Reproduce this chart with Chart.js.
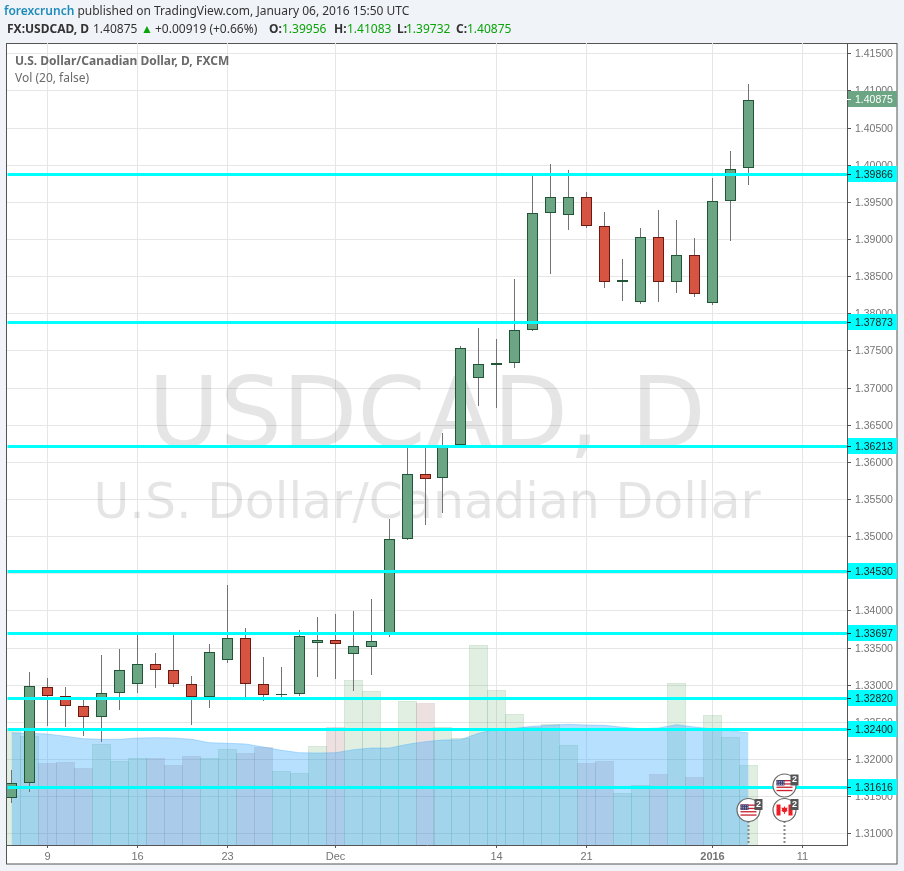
<!DOCTYPE html>
<html>
<head>
<meta charset="utf-8">
<script src="https://cdn.jsdelivr.net/npm/chart.js@4"></script>
<style>
html,body{margin:0;padding:0;width:904px;height:871px;overflow:hidden;background:#f0f3f7;}
#wrap{position:relative;width:904px;height:871px;}
canvas{position:absolute;left:0;top:0;}
.t{position:absolute;white-space:nowrap;font-family:"Noto Sans",sans-serif;font-size:12px;line-height:18px;color:#333;}
.b{font-weight:700;}
.g{color:#0aa30a;}
</style>
</head>
<body>
<div id="wrap">
<canvas id="c" width="904" height="871"></canvas>
<div class="t" style="left:4px;top:2px;"><span style="color:#1e8cba;font-weight:600">forexcrunch</span> published on TradingView.com, January 06, 2016 15:50 UTC</div>
<div class="t b" style="left:7px;top:20px;">FX:USDCAD, D</div>
<div class="t" style="left:93px;top:20px;">1.40875</div>
<div class="t g" style="left:141px;top:20px;">▲</div>
<div class="t" style="left:155px;top:20px;">+0.00919 (+0.66%)</div>
<div class="t b" style="left:269px;top:20px;">O:</div><div class="t g" style="left:282px;top:20px;">1.39956</div>
<div class="t b" style="left:334px;top:20px;">H:</div><div class="t g" style="left:347px;top:20px;">1.41083</div>
<div class="t b" style="left:397px;top:20px;">L:</div><div class="t g" style="left:406px;top:20px;">1.39732</div>
<div class="t b" style="left:456px;top:20px;">C:</div><div class="t g" style="left:467px;top:20px;">1.40875</div>
<div class="t b" style="left:15px;top:52px;font-size:12px;color:#6a6a6a;">U.S. Dollar/Canadian Dollar, D, FXCM</div>
<div class="t" style="left:15px;top:69px;font-size:12px;color:#6a6a6a;">Vol (20, false)</div>
</div>
<script>
const opens  = [1.31471,1.31673,1.32965,1.32844,1.32710,1.32561,1.32885,1.33006,1.33275,1.33194,1.33006,1.32835,1.33329,1.33625,1.33006,1.32855,1.32871,1.33555,1.33598,1.33410,1.33512,1.33696,1.34958,1.35833,1.35779,1.36220,1.37133,1.37308,1.37327,1.37771,1.39346,1.39319,1.39561,1.39171,1.38417,1.38148,1.39023,1.38417,1.38780,1.38134,1.39507,1.39956];
const highs  = [1.31852,1.33171,1.33091,1.32969,1.32794,1.33400,1.33481,1.33710,1.33427,1.33683,1.33117,1.33548,1.34342,1.33764,1.33373,1.33239,1.33737,1.33912,1.33952,1.33992,1.34154,1.35231,1.36200,1.36200,1.36388,1.37560,1.37802,1.37654,1.38462,1.39848,1.40009,1.39929,1.39633,1.39363,1.38731,1.39148,1.39390,1.39256,1.39013,1.39821,1.40185,1.41083];
const lows   = [1.31404,1.31560,1.32444,1.32431,1.32310,1.32233,1.32664,1.32893,1.32960,1.32973,1.32462,1.32691,1.33296,1.32830,1.32785,1.32835,1.32848,1.33108,1.33077,1.32920,1.33131,1.33646,1.34950,1.35154,1.35316,1.36210,1.36752,1.36725,1.37267,1.37760,1.38533,1.39125,1.39152,1.38344,1.38169,1.38129,1.38156,1.38277,1.38223,1.38116,1.38977,1.39732];
const closes = [1.31673,1.32979,1.32844,1.32710,1.32561,1.32885,1.33194,1.33275,1.33194,1.33006,1.32835,1.33436,1.33625,1.33006,1.32858,1.32871,1.33652,1.33598,1.33548,1.33517,1.33585,1.34958,1.35833,1.35773,1.36207,1.37529,1.37313,1.37327,1.37771,1.39346,1.39561,1.39561,1.39171,1.38417,1.38444,1.39023,1.38417,1.38780,1.38256,1.39507,1.39938,1.40875];
const volumes = [115,109,82,83,77,101,84,87,87,80,89,87,96,92,98,74,72,99,118,165,154,115,144,142,118,107,200,155,131,118,121,100,82,84,52,60,71,162,68,130,108,80];
const volumeMA = [112.3,111.7,111,108.7,106.3,105.7,105.7,107,107.3,107,105.7,102.3,101.7,101,98,94.7,92.3,92,92.3,95.3,97,97,100.7,103.3,105,105.3,111.7,115.7,116.7,118.7,119.7,120.7,120,119.7,117.7,116.3,117,120.3,118,116,114.3,112];
const levels = [1.39866,1.37873,1.36213,1.34530,1.33697,1.32820,1.32400,1.31616];
const lastPrice = 1.40875;
const yTickValues = [1.31,1.315,1.32,1.325,1.33,1.335,1.34,1.345,1.35,1.355,1.36,1.365,1.37,1.375,1.38,1.385,1.39,1.395,1.40,1.405,1.41,1.415];
const xTickIndex = [2,7,12,18,27,32,39,44];
const xTickLabels = ['9','16','23','Dec','14','21','2016','11'];
const eventIndex = [41,43,43];
const eventFlag = ['US','CA','US'];

const X_MIN=-0.242, X_MAX=46.487, Y_MIN=1.30842, Y_MAX=1.41638, VOL_MAX=802;
const TICK_FONT='"Liberation Sans",Arial,sans-serif';
const GREEN='#6ba583', GREEN_B='#225437', RED='#d75442', RED_B='#6b1a12';
const idx = opens.map((_,i)=>i);
const up = i => closes[i]>=opens[i];

function snap(scale,fn){
  if(scale.__snap) return;
  scale.__snap=true;
  const g=scale.getPixelForValue;
  scale.getPixelForValue=function(v,i){return fn(g.call(scale,v,i));};
}
const half=v=>Math.floor(v+0.22)+0.5;

function drawFlag(ctx,kind,cx,cy){
  ctx.save();
  ctx.beginPath();ctx.arc(cx,cy,11.5,0,Math.PI*2);
  ctx.fillStyle='#fff';ctx.fill();
  ctx.lineWidth=1.2;ctx.strokeStyle='#666';ctx.stroke();
  const w=16,h=11,l=cx-8,t=cy-5.5;
  if(kind==='US'){
    ctx.fillStyle='#fff';ctx.fillRect(l,t,w,h);
    ctx.fillStyle='#c8202f';
    for(let i=0;i<4;i++)ctx.fillRect(l,t+i*3.3,w,1.3);
    ctx.fillStyle='#3c3b6e';ctx.fillRect(l,t,8,5.5);
    ctx.fillStyle='#cfd2e6';
    for(let r=0;r<3;r++)for(let q=0;q<4;q++)ctx.fillRect(l+1+q*1.8,t+0.9+r*1.6,0.8,0.8);
  }else{
    ctx.fillStyle='#fff';ctx.fillRect(l,t,w,h);
    ctx.fillStyle='#ee1c25';
    ctx.fillRect(l,t,4,h);ctx.fillRect(l+12,t,4,h);
    ctx.beginPath();
    ctx.moveTo(cx,cy-4);ctx.lineTo(cx+1,cy-2);ctx.lineTo(cx+3,cy-2.4);ctx.lineTo(cx+2.4,cy);
    ctx.lineTo(cx+3.2,cy+0.8);ctx.lineTo(cx+0.4,cy+2.4);ctx.lineTo(cx+0.4,cy+4);ctx.lineTo(cx-0.4,cy+4);
    ctx.lineTo(cx-0.4,cy+2.4);ctx.lineTo(cx-3.2,cy+0.8);ctx.lineTo(cx-2.4,cy);ctx.lineTo(cx-3,cy-2.4);ctx.lineTo(cx-1,cy-2);
    ctx.closePath();ctx.fill();
  }
  ctx.fillStyle='#555';ctx.fillRect(cx+6,cy-11,8,11);
  ctx.fillStyle='#fff';ctx.font='bold 9px "Liberation Sans",sans-serif';
  ctx.textAlign='center';ctx.textBaseline='middle';
  ctx.fillText('2',cx+10,cy-5.5);
  ctx.restore();
}

const frame={
  id:'frame',
  beforeDraw(ch){
    const c=ch.ctx;
    c.save();
    c.fillStyle='#fff';c.fillRect(6,43,891,821);
    c.strokeStyle='#555';c.lineWidth=1;c.strokeRect(6.5,43.5,890.5,820.5);
    c.restore();
  },
  beforeDatasetsDraw(ch){
    const c=ch.ctx,a=ch.chartArea,mid=(a.left+a.right)/2;
    c.save();
    c.beginPath();c.rect(a.left,a.top,a.right-a.left,a.bottom-a.top);c.clip();
    c.fillStyle='rgba(0,0,0,0.1)';c.textAlign='center';c.textBaseline='alphabetic';
    c.font='98px "DejaVu Sans"';
    c.fillText('USDCAD, D',mid,447);
    c.font='49px "DejaVu Sans"';
    c.fillText('U.S. Dollar/Canadian Dollar',mid,518);
    c.restore();
  },
  afterDraw(ch){
    const c=ch.ctx,a=ch.chartArea,s=ch.scales.yL;
    c.save();
    c.font='10.5px '+TICK_FONT;c.textBaseline='middle';c.textAlign='left';
    const tag=(v,bg,fg)=>{
      const y=Math.floor(s.getPixelForValue(v));
      c.fillStyle=bg;c.fillRect(a.right+1,y-8,49,16);
      c.fillStyle=fg;c.fillRect(a.right,y,4,1);
      c.fillStyle=fg;c.fillText(v.toFixed(5),855,y+1);
    };
    levels.forEach(v=>tag(v,'#00ffff','#222'));
    tag(lastPrice,GREEN,'#fff');
    const count={};
    eventIndex.forEach((ix,i)=>{
      const lane=count[ix]||0;count[ix]=lane+1;
      const x=Math.round(ch.scales.x.getPixelForValue(ix))-0.5;
      const y=810-lane*24.5;
      if(lane===0){
        c.save();c.strokeStyle='#888';c.lineWidth=2;c.setLineDash([2,2]);
        c.beginPath();c.moveTo(x,y+11);c.lineTo(x,a.bottom);c.stroke();c.restore();
      }
    });
    const count2={};
    eventIndex.forEach((ix,i)=>{
      const lane=count2[ix]||0;count2[ix]=lane+1;
      const x=Math.round(ch.scales.x.getPixelForValue(ix))-0.5;
      drawFlag(c,eventFlag[i],x,810-lane*24.5);
    });
    c.restore();
  }
};

const datasets=[];
levels.forEach(v=>datasets.push({
  type:'line',label:'level '+v,data:[{x:X_MIN,y:v},{x:X_MAX,y:v}],
  borderColor:'#00ffff',borderWidth:3,pointRadius:0,order:0,yAxisID:'yL',fill:false,tension:0
}));
datasets.push({
  label:'Candle body',data:idx.map(i=>({x:i,y:[opens[i],closes[i]]})),
  backgroundColor:idx.map(i=>up(i)?GREEN:RED),
  borderColor:idx.map(i=>up(i)?GREEN_B:RED_B),
  borderWidth:1,borderSkipped:false,barThickness:11,inflateAmount:0,order:1,yAxisID:'y'
});
datasets.push({
  label:'Candle wick',data:idx.map(i=>({x:i,y:[lows[i],highs[i]]})),
  backgroundColor:'#737375',borderWidth:0,barThickness:1,inflateAmount:0,order:2,yAxisID:'y'
});
datasets.push({
  type:'line',label:'Vol MA',data:idx.map(i=>({x:i,y:volumeMA[i]})),
  borderColor:'rgba(60,170,250,0.35)',borderWidth:1,pointRadius:0,tension:0,
  backgroundColor:'rgba(30,160,255,0.32)',fill:'origin',order:3,yAxisID:'yV'
});
datasets.push({
  label:'Vol',data:idx.map(i=>({x:i,y:volumes[i]})),
  backgroundColor:idx.map(i=>up(i)?'rgba(115,180,125,0.22)':'rgba(130,50,50,0.15)'),
  borderColor:idx.map(i=>up(i)?'rgba(115,180,125,0.3)':'rgba(130,50,50,0.16)'),
  borderWidth:1,barThickness:19,inflateAmount:0,order:4,yAxisID:'yV'
});

new Chart(document.getElementById('c'),{
  type:'bar',
  data:{datasets},
  plugins:[frame],
  options:{
    responsive:false,animation:false,maintainAspectRatio:false,
    parsing:{xAxisKey:'x',yAxisKey:'y'},
    datasets:{bar:{grouped:false}},
    layout:{padding:{left:7,top:43,right:7,bottom:7}},
    plugins:{legend:{display:false},title:{display:false},tooltip:{enabled:false}},
    events:[],
    scales:{
      x:{
        type:'linear',min:X_MIN,max:X_MAX,offset:false,
        border:{color:'#555',width:1},
        grid:{offset:false,color:'#e6e6e6',lineWidth:1,tickColor:'#555',tickLength:3},
        afterBuildTicks(s){s.ticks=xTickIndex.map(v=>({value:v}));snap(s,half);},
        afterFit(s){s.height=19;},
        ticks:{
          autoSkip:false,maxRotation:0,minRotation:0,padding:2,color:'#737375',
          font(ctx){return {family:TICK_FONT,size:11,weight:ctx.tick&&ctx.tick.value===39?'bold':'normal'};},
          callback(v){const i=xTickIndex.indexOf(v);return i<0?'':xTickLabels[i];}
        }
      },
      y:{
        type:'linear',position:'right',min:Y_MIN,max:Y_MAX,
        border:{color:'#555',width:1},
        grid:{color:'#e6e6e6',lineWidth:1,tickColor:'#555',tickLength:4},
        afterBuildTicks(s){s.ticks=yTickValues.map(v=>({value:v}));snap(s,Math.round);},
        afterFit(s){s.width=50;},
        ticks:{autoSkip:false,padding:4,labelOffset:1,color:'#737375',font:{family:TICK_FONT,size:10.5},callback(v){return Number(v).toFixed(5);}}
      },
      yL:{type:'linear',display:false,position:'right',min:Y_MIN,max:Y_MAX,
        afterBuildTicks(s){snap(s,half);},grid:{display:false}},
      yV:{type:'linear',display:false,position:'left',min:0,max:VOL_MAX,grid:{display:false}}
    }
  }
});
</script>
</body>
</html>
